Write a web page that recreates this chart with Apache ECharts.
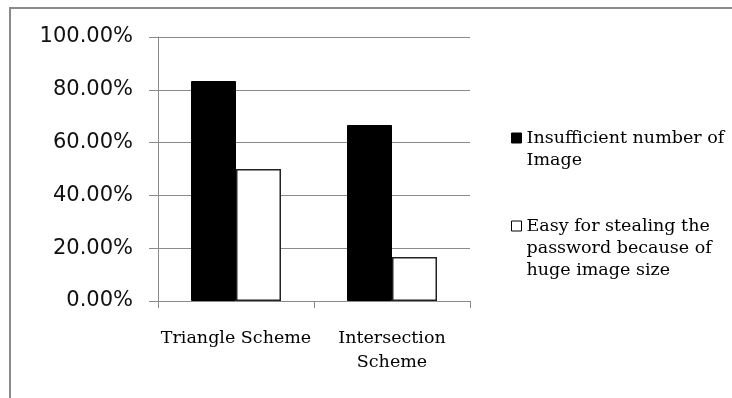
<!DOCTYPE html>
<html>
<head>
<meta charset="utf-8">
<script src="https://cdn.jsdelivr.net/npm/echarts@6/dist/echarts.min.js"></script>
<style>
  html, body { margin: 0; padding: 0; background: #fff; }
  #chart { width: 732px; height: 398px; }
</style>
</head>
<body>
<div id="chart"></div>
<script>
// Schemes compared along the x axis
const categories = ['Triangle Scheme', 'Intersection Scheme'];
// Share of respondents for each drawback (fractions of 1)
const insufficientImages = [0.8333, 0.6667];
const easyStealing = [0.5, 0.1667];
// Legend names, wrapped as they are printed
const seriesNames = [
  'Insufficient number of\nImage',
  'Easy for stealing the\npassword because of\nhuge image size'
];
// Value axis ticks
const yMin = 0, yMax = 1, yStep = 0.2;

const serifFont = '"DejaVu Serif", "Liberation Serif", serif';
const sansFont = '"DejaVu Sans", Verdana, sans-serif';

function wrapCategory(name) {
  return name.length > 16 ? name.replace(' ', '\n') : name;
}

// The legend text block is centred on its square; leading blank lines
// bring the first printed line level with the square.
function legendLabel(name) {
  const lines = name.split('\n').length;
  return '\n'.repeat(lines - 1) + name;
}

const chart = echarts.init(document.getElementById('chart'), null, { renderer: 'canvas' });
chart.setOption({
  animation: false,
  backgroundColor: '#ffffff',
  graphic: [{
    type: 'polyline',
    shape: { points: [[10, 398], [10, 8], [732, 8]] },
    style: { stroke: '#8a8a8a', lineWidth: 2, fill: null },
    silent: true
  }],
  grid: { left: 158, right: 262, top: 37, bottom: 97, containLabel: false },
  legend: {
    orient: 'vertical',
    left: 511,
    top: 105,
    padding: 0,
    itemWidth: 10,
    itemHeight: 10,
    itemGap: 0,
    icon: 'rect',
    selectedMode: false,
    formatter: legendLabel,
    textStyle: { fontFamily: serifFont, fontSize: 17.5, color: '#000', lineHeight: 22 },
    data: [
      { name: seriesNames[0], itemStyle: { color: '#000', borderColor: '#000', borderWidth: 1 } },
      { name: seriesNames[1], itemStyle: { color: '#fff', borderColor: '#000', borderWidth: 1 } }
    ]
  },
  xAxis: {
    type: 'category',
    data: categories,
    axisLine: { show: true, lineStyle: { color: '#8a8a8a', width: 1 } },
    axisTick: { show: true, length: 7, lineStyle: { color: '#8a8a8a' } },
    axisLabel: {
      formatter: wrapCategory,
      fontFamily: serifFont,
      fontSize: 17.5,
      lineHeight: 24,
      color: '#000',
      margin: 25,
      interval: 0
    },
    splitLine: { show: false }
  },
  yAxis: {
    type: 'value',
    min: yMin,
    max: yMax,
    interval: yStep,
    axisLine: { show: true, lineStyle: { color: '#8a8a8a', width: 1 } },
    axisTick: { show: true, inside: false, length: 9, lineStyle: { color: '#8a8a8a' } },
    axisLabel: {
      formatter: v => (v * 100).toFixed(2) + '%',
      fontFamily: sansFont,
      fontSize: 21,
      color: '#111',
      margin: 25
    },
    splitLine: { show: true, lineStyle: { color: '#8a8a8a', width: 1 } }
  },
  series: [
    {
      name: seriesNames[0],
      type: 'bar',
      data: insufficientImages,
      barWidth: 45,
      barGap: '0%',
      itemStyle: { color: '#000', borderColor: '#000', borderWidth: 1 }
    },
    {
      name: seriesNames[1],
      type: 'bar',
      data: easyStealing,
      barWidth: 45,
      barGap: '0%',
      itemStyle: { color: '#fff', borderColor: '#222', borderWidth: 1.5 }
    }
  ]
});
</script>
</body>
</html>
